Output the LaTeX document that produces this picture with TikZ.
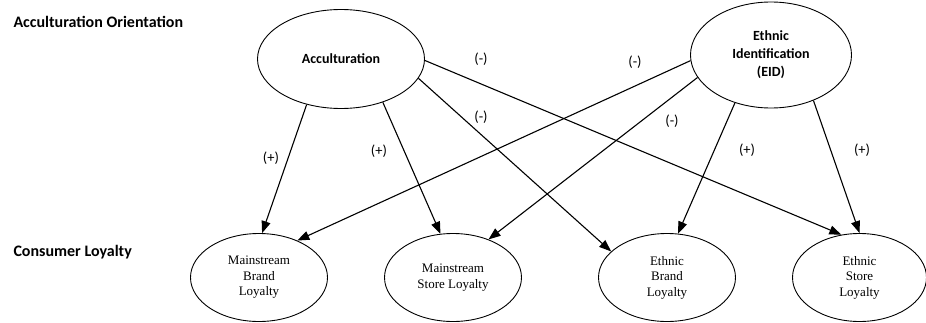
\documentclass[tikz,border=0pt]{standalone}
\usepackage{fontspec}
\setmainfont{Liberation Serif}
\newfontfamily\calfont{Carlito}
\usetikzlibrary{arrows.meta,shapes.geometric}
\begin{document}
\begin{tikzpicture}[x=1pt,y=1pt,
  topell/.style={draw,line width=0.9pt,ellipse,inner sep=0pt,align=center,font=\calfont\bfseries\fontsize{14}{18}\selectfont},
  botell/.style={draw,line width=0.9pt,ellipse,inner sep=0pt,minimum width=137pt,minimum height=88pt,align=center,font=\fontsize{13}{15.5}\selectfont},
  head/.style={anchor=west,font=\calfont\bfseries\fontsize{16}{18}\selectfont},
  sign/.style={font=\calfont\fontsize{14.5}{16}\selectfont},
  link/.style={line width=1.1pt,-{Triangle[length=12pt,width=9pt]}}]
\useasboundingbox (0,0) rectangle (926,322);
\node[head] (h1) at (10,300) {Acculturation Orientation};
\node[head] (h2) at (10,70) {Consumer Loyalty};
\node[topell,minimum width=167pt,minimum height=99pt] (acc) at (341,263) {Acculturation};
\node[topell,minimum width=161pt,minimum height=106pt] (eid) at (771,267) {Ethnic\\Identification\\(EID)};
\node[botell] (mbl) at (259,44.5) {Mainstream\\Brand\\Loyalty};
\node[botell] (msl) at (453,44.5) {Mainstream\\Store Loyalty};
\node[botell] (ebl) at (667,44.5) {Ethnic\\Brand\\Loyalty};
\node[botell,minimum width=134pt] (esl) at (859.5,44.5) {Ethnic\\Store\\Loyalty};
\draw[link] (acc.233) -- (mbl.86);
\draw[link] (acc.314) -- (msl.106.6);
\draw[link] (acc.346) -- (ebl.155);
\draw[link] (acc.359) -- (esl.113);
\draw[link] (eid.184) -- (mbl.44);
\draw[link] (eid.197.5) -- (msl.47);
\draw[link] (eid.233.7) -- (ebl.76);
\draw[link] (eid.313) -- (esl.90);
\node[sign] (s1) at (271,164) {(+)};
\node[sign] (s2) at (379,171) {(+)};
\node[sign] (s3) at (481,263) {(-)};
\node[sign] (s4) at (635,260) {(-)};
\node[sign] (s5) at (481,205) {(-)};
\node[sign] (s6) at (672,201) {(-)};
\node[sign] (s7) at (747,172) {(+)};
\node[sign] (s8) at (862,172) {(+)};
\end{tikzpicture}
\end{document}
